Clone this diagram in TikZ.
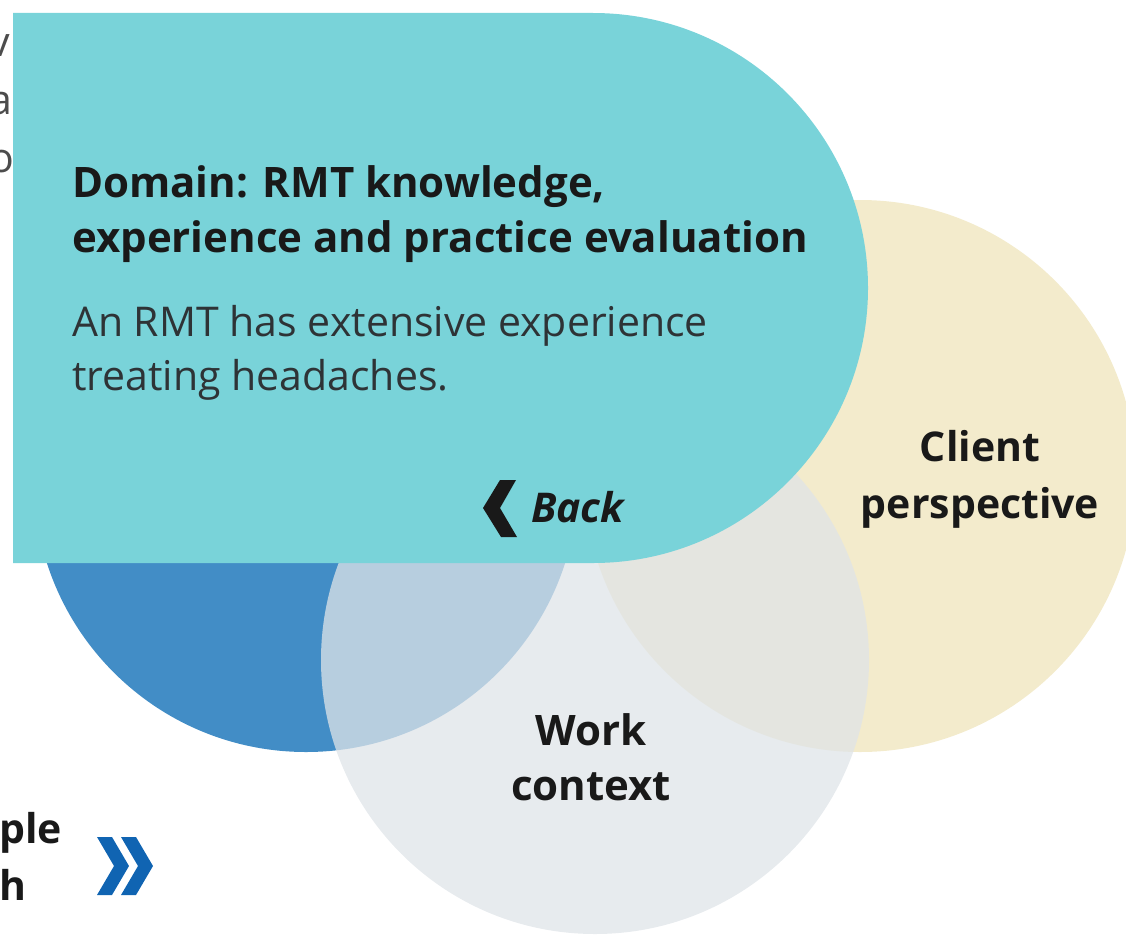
\documentclass[tikz,border=0pt]{standalone}
\usepackage{fontspec}
\setmainfont{Open Sans}
\definecolor{panelcyan}{HTML}{79D3D9}
\definecolor{domblue}{HTML}{428DC6}
\definecolor{clientcream}{HTML}{F3EBCC}
\definecolor{workgrey}{HTML}{DFE4E8}
\definecolor{navblue}{HTML}{1064B2}
\definecolor{bodygrey}{HTML}{2E3336}
\begin{document}
\begin{tikzpicture}[x=1pt, y=-1pt, line join=round,
    lbl/.style={font=\bfseries\fontsize{41}{57}\selectfont, align=center, text=black!90, inner sep=0pt},
    ttl/.style={font=\bfseries\fontsize{42}{55}\selectfont, align=left, text=black!90, inner sep=0pt},
    bodytxt/.style={font=\fontsize{41}{54}\selectfont, align=left, text=bodygrey, inner sep=0pt},
    frag/.style={font=\fontsize{41}{58}\selectfont, align=left, text=black!70, inner sep=0pt}]
    \def\W{1126} \def\H{934} % size of the picture
    \useasboundingbox (0,0) rectangle (\W,\H);
    \clip (0,0) rectangle (\W,\H);
    % the three circles
    \fill[domblue] (306,480) circle (272pt);
    \fill[clientcream] (860,476) circle (276pt);
    \fill[workgrey, fill opacity=0.75] (595,660) circle (274pt);
    % text lying under the panel (base = last line)
    \node[frag, anchor=base west] (fragleft) at (-11,172) {v\\a\\o};
    % the panel
    \fill[panelcyan] (13,13) -- (593,13) arc[start angle=90, end angle=-90, radius=275pt] -- (13,563) -- cycle;
    \node[ttl, anchor=base west] (title) at (72,252) {Domain: RMT knowledge,\\experience and practice evaluation};
    \node[bodytxt, anchor=base west] (example) at (72,390) {An RMT has extensive experience\\treating headaches.};
    \fill[black!90] (483,508) -- (500,480) -- (516,480) -- (500,508) -- (517,537) -- (501,537) -- cycle;
    \node[ttl, font=\bfseries\itshape\fontsize{41}{50}\selectfont, anchor=base west] (back) at (531,522) {Back};
    % circle labels
    \node[lbl, anchor=base] (client) at (980,518) {Client\\perspective};
    \node[lbl, font=\bfseries\fontsize{42}{55}\selectfont, anchor=base] (work) at (591,800) {Work\\context};
    % bottom left
    \node[lbl, align=left, anchor=base west] (fragpath) at (-1,900) {ple\\h};
    \foreach \dx in {0,24}
        \fill[navblue] (97+\dx,837) -- (112+\dx,837) -- (129+\dx,866) -- (112+\dx,895) -- (97+\dx,895) -- (114+\dx,866) -- cycle;
\end{tikzpicture}
\end{document}
